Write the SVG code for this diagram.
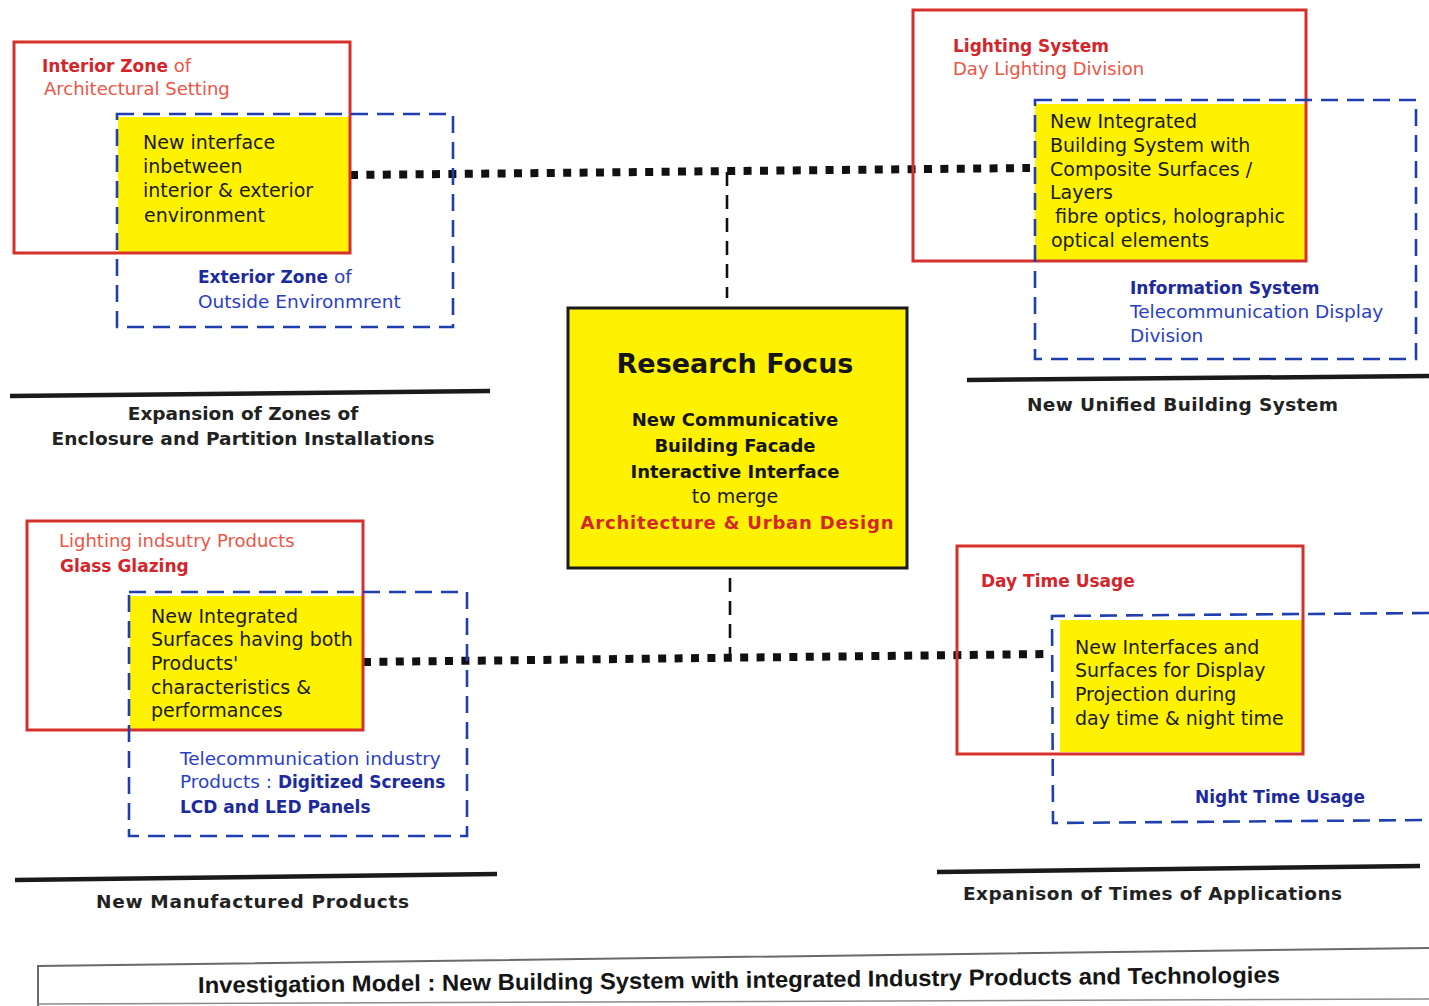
<svg xmlns="http://www.w3.org/2000/svg" width="1429" height="1006" viewBox="0 0 1429 1006">
<defs>
<style>
.bg{fill:#ffffff}
.yel{fill:#fff200;stroke:none}
.red{fill:none;stroke:#d6302c;stroke-width:3}
.blue{fill:none;stroke:#1f3fae;stroke-width:2.6;stroke-dasharray:17 9}
.dot{stroke:#111;stroke-width:8;stroke-dasharray:8 8.4;fill:none}
.vdash{stroke:#111;stroke-width:2.6;stroke-dasharray:14 9;fill:none}
.rule{stroke:#1a1a1a;stroke-width:4.5;fill:none}
.t{font-family:"DejaVu Sans","Liberation Sans",sans-serif;font-size:19px;fill:#1a1a1a}
.rb{font-family:"DejaVu Sans","Liberation Sans",sans-serif;font-size:17px;font-weight:bold;fill:#d4252b}
.rr{font-family:"DejaVu Sans","Liberation Sans",sans-serif;font-size:18px;fill:#ee5546}
.bb{font-family:"DejaVu Sans","Liberation Sans",sans-serif;font-size:17px;font-weight:bold;fill:#1c2a9e}
.br{font-family:"DejaVu Sans","Liberation Sans",sans-serif;font-size:18.5px;fill:#2a40c4}
.lab{font-family:"DejaVu Sans","Liberation Sans",sans-serif;font-size:18.5px;font-weight:bold;fill:#222}
.cb{font-family:"DejaVu Sans","Liberation Sans",sans-serif;font-size:18px;font-weight:bold;fill:#151515}
</style>
</defs>
<rect class="bg" x="0" y="0" width="1429" height="1006"/>

<g id="connectors">
<line class="dot" x1="350" y1="175" x2="1030" y2="168"/>
<line class="dot" x1="363" y1="662" x2="1051" y2="654"/>
<line class="vdash" x1="727" y1="172" x2="727" y2="298"/>
<line class="vdash" x1="730" y1="578" x2="730" y2="656"/>
</g>

<g id="zone-interior">
<rect class="yel" x="118" y="117" width="232" height="136"/>
<rect class="red" x="14" y="42" width="336" height="211"/>
<rect class="blue" x="117" y="114" width="336" height="213"/>
<text class="rb" x="42" y="72">Interior Zone <tspan class="rr" font-weight="normal" style="font-weight:normal">of</tspan></text>
<text class="rr" x="44" y="95">Architectural Setting</text>
<text class="t" x="143" y="149">New interface</text>
<text class="t" x="143" y="173">inbetween</text>
<text class="t" x="143" y="197">interior &amp; exterior</text>
<text class="t" x="144" y="222">environment</text>
<text class="bb" x="198" y="283">Exterior Zone <tspan class="br" style="font-weight:normal">of</tspan></text>
<text class="br" x="198" y="308">Outside Environmrent</text>
</g>

<g id="label-enclosure">
<line class="rule" x1="10" y1="396" x2="490" y2="391"/>
<text class="lab" x="243" y="420" text-anchor="middle">Expansion of Zones of</text>
<text class="lab" x="243" y="445" text-anchor="middle" textLength="383">Enclosure and Partition Installations</text>
</g>

<g id="zone-lighting">
<rect class="yel" x="1035" y="104" width="271" height="156"/>
<rect class="red" x="913" y="10" width="393" height="251"/>
<rect class="blue" x="1035" y="100" width="381" height="259"/>
<text class="rb" x="953" y="52">Lighting  System</text>
<text class="rr" x="953" y="75">Day Lighting Division</text>
<text class="t" x="1050" y="128">New Integrated</text>
<text class="t" x="1050" y="152">Building System with</text>
<text class="t" x="1050" y="176">Composite Surfaces /</text>
<text class="t" x="1050" y="199">Layers</text>
<text class="t" x="1055" y="223">fibre optics, holographic</text>
<text class="t" x="1051" y="247">optical elements</text>
<text class="bb" x="1130" y="294">Information System</text>
<text class="br" x="1130" y="318">Telecommunication Display</text>
<text class="br" x="1130" y="342">Division</text>
</g>

<g id="label-unified">
<line class="rule" x1="967" y1="380" x2="1429" y2="376"/>
<text class="lab" x="1027" y="411" textLength="311">New Unified Building System</text>
</g>

<g id="research-focus">
<rect x="568" y="308" width="339" height="260" fill="#fff200" stroke="#1a1a1a" stroke-width="3"/>
<text x="735" y="373" text-anchor="middle" font-family="'DejaVu Sans','Liberation Sans',sans-serif" font-size="27" font-weight="bold" fill="#151515">Research Focus</text>
<text class="cb" x="735" y="426" text-anchor="middle">New Communicative</text>
<text class="cb" x="735" y="452" text-anchor="middle">Building Facade</text>
<text class="cb" x="735" y="478" text-anchor="middle">Interactive Interface</text>
<text class="t" x="735" y="503" text-anchor="middle">to merge</text>
<text class="cb" x="737" y="529" text-anchor="middle" fill="#d4252b" style="fill:#d4252b" textLength="313">Architecture &amp; Urban Design</text>
</g>

<g id="zone-products">
<rect class="yel" x="130" y="596" width="233" height="133"/>
<rect class="red" x="27" y="521" width="336" height="209"/>
<rect class="blue" x="129" y="592" width="338" height="244"/>
<text class="rr" x="59" y="547">Lighting indsutry Products</text>
<text class="rb" x="60" y="572">Glass  Glazing</text>
<text class="t" x="151" y="623">New Integrated</text>
<text class="t" x="151" y="646">Surfaces having both</text>
<text class="t" x="151" y="670">Products'</text>
<text class="t" x="151" y="694">characteristics &amp;</text>
<text class="t" x="151" y="717">performances</text>
<text class="br" x="180" y="765">Telecommunication industry</text>
<text class="br" x="180" y="788">Products : <tspan class="bb">Digitized Screens</tspan></text>
<text class="bb" x="180" y="813">LCD and LED Panels</text>
</g>

<g id="label-manufactured">
<line class="rule" x1="15" y1="880" x2="497" y2="874"/>
<text class="lab" x="96" y="908" textLength="313">New Manufactured Products</text>
</g>

<g id="zone-time">
<rect class="yel" x="1060" y="620" width="244" height="132"/>
<rect class="red" x="957" y="546" width="346" height="208"/>
<path class="blue" d="M1429 613 L1052 616 L1053 823 L1429 820"/>
<text class="rb" x="981" y="587">Day Time Usage</text>
<text class="t" x="1075" y="654">New Interfaces and</text>
<text class="t" x="1075" y="677">Surfaces for Display</text>
<text class="t" x="1075" y="701">Projection during</text>
<text class="t" x="1075" y="725">day time &amp; night time</text>
<text class="bb" x="1195" y="803">Night Time Usage</text>
</g>

<g id="label-times">
<line class="rule" x1="937" y1="872" x2="1420" y2="866"/>
<text class="lab" x="963" y="900" textLength="379">Expanison of Times of Applications</text>
</g>

<g id="title">
<path d="M38 1006 L38 966 L1429 948" fill="none" stroke="#6a6a6a" stroke-width="2"/>
<line x1="38" y1="1004" x2="1429" y2="999" stroke="#8a8a8a" stroke-width="1.5"/>
<text x="198" y="993" transform="rotate(-0.55 198 993)" font-family="'Liberation Sans','DejaVu Sans',sans-serif" font-size="23" font-weight="bold" fill="#151515" textLength="1082" lengthAdjust="spacingAndGlyphs">Investigation Model : New Building System with integrated Industry Products and Technologies</text>
</g>
</svg>
